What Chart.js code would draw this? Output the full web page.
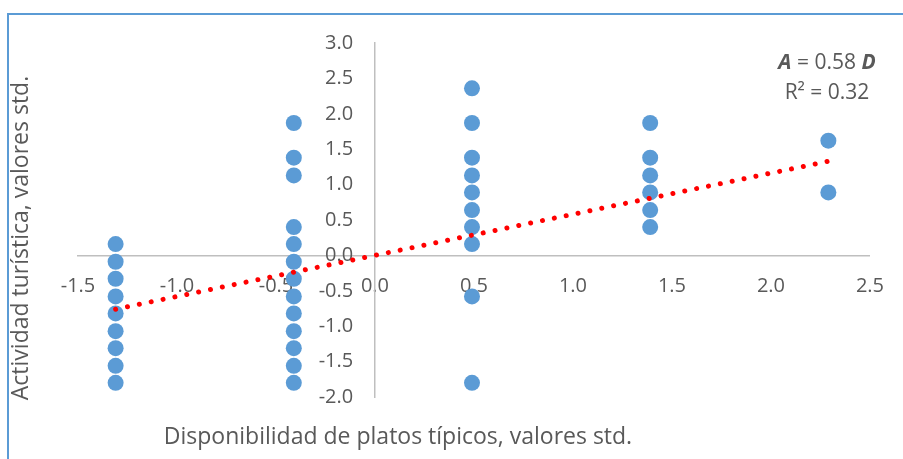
<!DOCTYPE html>
<html>
<head>
<meta charset="utf-8">
<script src="https://cdn.jsdelivr.net/npm/chart.js@4/dist/chart.umd.min.js"></script>
<style>
  html, body { margin: 0; padding: 0; background: #ffffff; }
  #wrap { position: relative; width: 903px; height: 459px; overflow: hidden; }
  #frame { position: absolute; left: 7px; top: 13px; width: 1000px; height: 1000px;
           border-left: 2px solid #5B9BD5; border-top: 2px solid #5B9BD5; box-sizing: border-box; }
  canvas { position: absolute; left: 0; top: 0; }
</style>
</head>
<body>
<div id="wrap">
  <div id="frame"></div>
  <canvas id="c" width="903" height="459"></canvas>
</div>
<script>
// Disponibilidad de platos típicos (std) for each observation
const platosX = [
  -1.31, -1.31, -1.31, -1.31, -1.31, -1.31, -1.31, -1.31, -1.31,
  -0.41, -0.41, -0.41, -0.41, -0.41, -0.41, -0.41, -0.41, -0.41, -0.41, -0.41, -0.41, -0.41,
  0.49, 0.49, 0.49, 0.49, 0.49, 0.49, 0.49, 0.49, 0.49, 0.49,
  1.39, 1.39, 1.39, 1.39, 1.39, 1.39,
  2.29, 2.29
];
// Actividad turística (std) for each observation
const actividadY = [
  0.16, -0.09, -0.33, -0.58, -0.82, -1.07, -1.31, -1.56, -1.80,
  1.87, 1.38, 1.13, 0.40, 0.16, -0.09, -0.33, -0.58, -0.82, -1.07, -1.31, -1.56, -1.80,
  2.36, 1.87, 1.38, 1.13, 0.89, 0.64, 0.40, 0.16, -0.58, -1.80,
  1.87, 1.38, 1.13, 0.89, 0.64, 0.40,
  1.62, 0.89
];
// Linear trend line end points (A = 0.58 D)
const trendX = [-1.31, 2.29];
const trendY = [-0.76, 1.33];

const xTitle = 'Disponibilidad de platos típicos, valores std.';
const yTitle = 'Actividad turística, valores std.';
const eqLine1 = ['A', ' = 0.58 ', 'D'];
const eqLine2 = 'R² = 0.32';

const FONT = '"Open Sans", Lato, sans-serif';
const TXT = '#595959';
const AXIS = '#BFBFBF';

const points = platosX.map((x, i) => ({ x: x, y: actividadY[i] }));
const trend = trendX.map((x, i) => ({ x: x, y: trendY[i] }));

const textPlugin = {
  id: 'textPlugin',
  afterDraw(chart) {
    const ctx = chart.ctx;
    ctx.save();
    ctx.fillStyle = TXT;
    ctx.textBaseline = 'middle';
    // x title
    ctx.font = '23px ' + FONT;
    ctx.textAlign = 'center';
    ctx.fillText(xTitle, 398, 437);
    // y title
    ctx.save();
    ctx.translate(21, 238);
    ctx.rotate(-Math.PI / 2);
    ctx.fillText(yTitle, 0, 0);
    ctx.restore();
    // equation line 1 (mixed styles), centered
    const fonts = ['italic bold 21px ' + FONT, '21px ' + FONT, 'italic bold 21px ' + FONT];
    const widths = eqLine1.map((s, i) => { ctx.font = fonts[i]; return ctx.measureText(s).width; });
    const total = widths.reduce((a, b) => a + b, 0);
    let xx = 827 - total / 2;
    ctx.textAlign = 'left';
    eqLine1.forEach((s, i) => { ctx.font = fonts[i]; ctx.fillText(s, xx, 63); xx += widths[i]; });
    ctx.font = '21px ' + FONT;
    ctx.textAlign = 'center';
    ctx.fillText(eqLine2, 827, 93);
    ctx.restore();
  }
};

const tickFont = { family: FONT, size: 20 };
const fmt = v => Number(v).toFixed(1);

new Chart(document.getElementById('c'), {
  type: 'scatter',
  data: {
    datasets: [
      {
        label: 'Tendencia',
        data: trend,
        showLine: true,
        borderColor: '#FF0000',
        borderWidth: 5,
        borderDash: [0.01, 12.1],
        borderCapStyle: 'round',
        pointRadius: 0,
        fill: false,
        order: 0
      },
      {
        label: 'Datos',
        data: points,
        backgroundColor: '#5B9BD5',
        borderWidth: 0,
        pointRadius: 8,
        order: 1
      }
    ]
  },
  options: {
    responsive: false,
    animation: false,
    devicePixelRatio: 1,
    layout: { padding: { left: 78, right: 31, top: 43, bottom: 62 } },
    plugins: { legend: { display: false }, tooltip: { enabled: false } },
    scales: {
      x: {
        type: 'linear',
        position: { y: 0 },
        min: -1.5, max: 2.5,
        grid: { display: true, drawOnChartArea: false, drawTicks: false, color: 'rgba(0,0,0,0)' },
        border: { display: true, color: AXIS, width: 1.5 },
        ticks: {
          stepSize: 0.5, autoSkip: false, maxRotation: 0, padding: 19,
          color: TXT, font: tickFont, callback: fmt
        }
      },
      y: {
        type: 'linear',
        position: { x: 0 },
        min: -2, max: 3,
        grid: { display: true, drawOnChartArea: false, drawTicks: false, color: 'rgba(0,0,0,0)' },
        border: { display: true, color: AXIS, width: 1.5 },
        ticks: { display: false, stepSize: 0.5 }
      },
      yLabels: {
        type: 'linear',
        axis: 'y',
        position: { x: -0.11 },
        min: -2, max: 3,
        grid: { display: false, drawTicks: false },
        border: { display: false },
        ticks: {
          stepSize: 0.5, autoSkip: false, padding: 0,
          color: TXT, font: tickFont, callback: fmt
        }
      }
    }
  },
  plugins: [textPlugin]
});
</script>
</body>
</html>
